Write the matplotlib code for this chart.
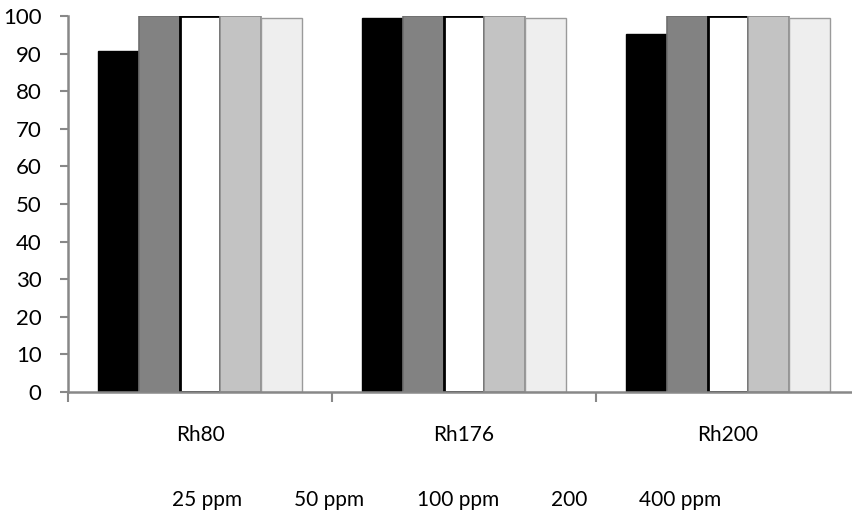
import matplotlib
matplotlib.use("Agg")
import matplotlib.pyplot as plt
import numpy as np

categories = ["Rh80", "Rh176", "Rh200"]
series_labels = ["25 ppm", "50 ppm", "100 ppm", "200", "400 ppm"]
values = {
    "25 ppm": [90.6, 99.6, 95.3],
    "50 ppm": [100, 100, 100],
    "100 ppm": [100, 100, 100],
    "200": [100, 100, 100],
    "400 ppm": [99.5, 99.5, 99.5],
}
yticks = [0, 10, 20, 30, 40, 50, 60, 70, 80, 90, 100]

face_colors = ["#000000", "#828282", "#ffffff", "#c3c3c3", "#eeeeee"]
edge_colors = ["#000000", "#6e6e6e", "#000000", "#8c8c8c", "#9a9a9a"]
edge_widths = [1.0, 1.2, 2.0, 1.2, 1.0]

plt.rcParams['font.family'] = ['Lato', 'DejaVu Sans']

fig = plt.figure(figsize=(8.53, 5.2), dpi=100)
ax = fig.add_axes([68/853, 1-392/520, 792/853, 376/520])

x = np.arange(len(categories))
bw = 0.155
handles = []
for i, lab in enumerate(series_labels):
    h = ax.bar(x + (i - 2) * bw, values[lab], width=bw, color=face_colors[i],
               edgecolor=edge_colors[i], linewidth=edge_widths[i], label=lab, zorder=2)
    handles.append(h)

ax.set_xlim(-0.5, 2.5)
ax.set_ylim(0, 100)
ax.set_yticks(yticks)
ax.set_yticklabels([str(v) for v in yticks], fontsize=16)
ax.set_xticks(x)
ax.set_xticklabels(categories, fontsize=15)
ax.set_xticks([-0.5, 0.5, 1.5, 2.5], minor=True)
ax.tick_params(axis='x', which='major', length=0, pad=24)
ax.tick_params(axis='x', which='minor', length=7, width=1.5, color='#888888')
ax.tick_params(axis='y', length=6, width=1.5, color='#888888', pad=13)
for s in ['top', 'right']:
    ax.spines[s].set_visible(False)
for s in ['left', 'bottom']:
    ax.spines[s].set_color('#888888')
    ax.spines[s].set_linewidth(1.8)

leg = fig.legend(handles=handles, labels=series_labels, loc='center',
                 bbox_to_anchor=(447/853, 1-500/520), ncol=5, frameon=False,
                 fontsize=15, handlelength=0, handletextpad=0, columnspacing=2.5)
for h in leg.legend_handles:
    h.set_visible(False)

fig.savefig("out.png", dpi=100)
